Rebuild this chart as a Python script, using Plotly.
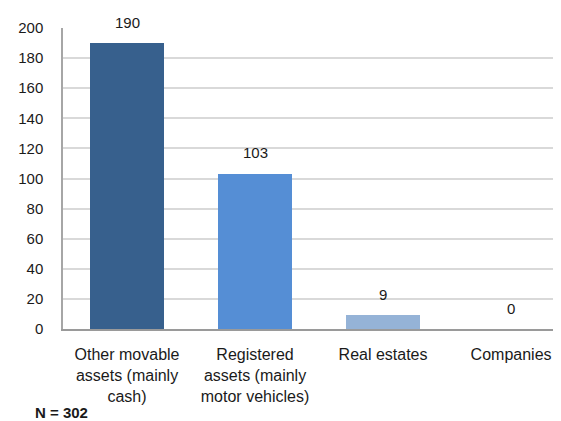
import plotly.graph_objects as go

categories = ["Other movable<br>assets (mainly<br>cash)", "Registered<br>assets (mainly<br>motor vehicles)", "Real estates", "Companies"]
values = [190, 103, 9, 0]
colors = ["#37608d", "#558ed5", "#95b3d7", "#95b3d7"]
y_ticks = [0, 20, 40, 60, 80, 100, 120, 140, 160, 180, 200]

FONT = "Liberation Sans"
TXT = "#1a1a1a"

fig = go.Figure()
fig.add_trace(go.Bar(
    x=list(range(len(categories))), y=values, marker_color=colors,
    marker_line_width=0, width=0.58, hoverinfo="skip",
))

for i, v in enumerate(values):
    fig.add_annotation(x=i, y=v, text=str(v), showarrow=False,
                       yanchor="middle", yshift=21,
                       font=dict(family=FONT, size=15, color=TXT))

fig.add_annotation(xref="paper", yref="paper", x=-0.06, y=-0.276,
                   xanchor="left", yanchor="middle", showarrow=False,
                   text="<b>N = 302</b>", font=dict(family=FONT, size=15, color=TXT))

# page body has an 8px default margin, so the figure is sized to fit the window
fig.update_layout(
    width=553, height=413,
    margin=dict(l=55, r=0, t=20, b=92, autoexpand=False),
    paper_bgcolor="white", plot_bgcolor="white",
    showlegend=False, bargap=0,
    font=dict(family=FONT, size=15, color=TXT),
)
fig.update_xaxes(
    tickmode="array", tickvals=list(range(len(categories))), ticktext=categories,
    range=[-0.5, 3.39], showgrid=False, zeroline=False, automargin=False,
    showline=True, linecolor="#9a9a9a", linewidth=2,
    ticks="outside", ticklen=10, tickcolor="rgba(0,0,0,0)",
    tickfont=dict(family=FONT, size=16, color=TXT),
)
fig.update_yaxes(
    range=[0, 200], tickvals=y_ticks, showgrid=True, gridcolor="#d9d9d9", gridwidth=1.5,
    zeroline=False, showline=True, linecolor="#a6a6a6", linewidth=1.5, automargin=False,
    ticks="outside", ticklen=15, tickcolor="rgba(0,0,0,0)",
    tickfont=dict(family=FONT, size=15, color=TXT),
)

fig.write_html("out.html")
